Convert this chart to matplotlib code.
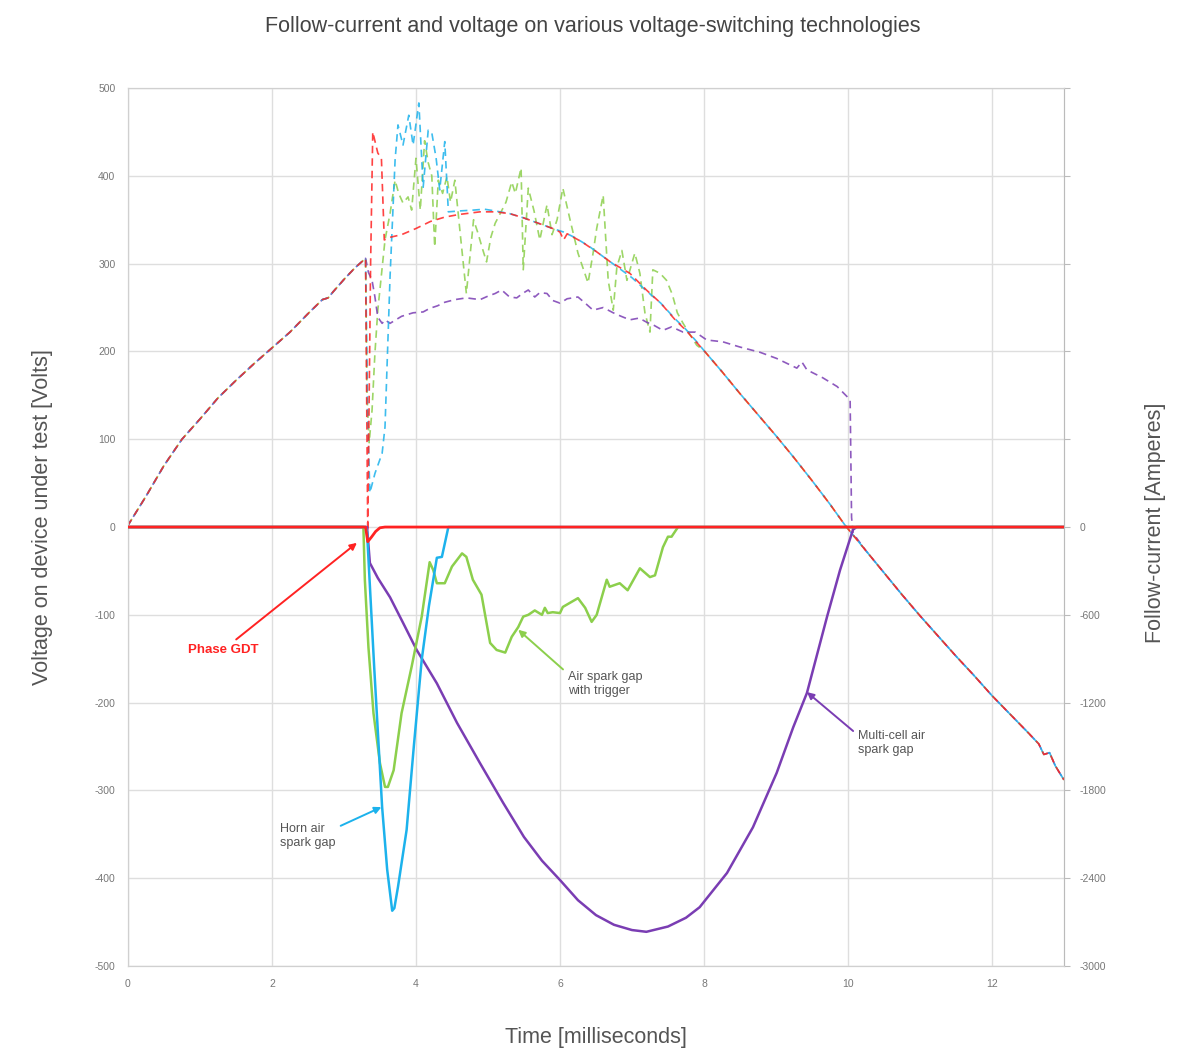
import matplotlib

matplotlib.use("Agg")
import matplotlib.pyplot as plt

plt.rcParams["font.family"] = ["Liberation Sans", "DejaVu Sans"]
plt.rcParams["axes.unicode_minus"] = False

# colours of the four technologies
C_RED = "#ff2222"
C_BLUE = "#1cb2ec"
C_GREEN = "#8ccf4c"
C_PURPLE = "#7a3db3"

# ---- voltage [V], shared sine rise before the arc and fall after it
t_rise = [0, 0.25, 0.5, 0.75, 1.0, 1.25, 1.5, 1.75, 2.0, 2.25, 2.5, 2.7, 2.78, 2.85, 3.0, 3.15, 3.3]
v_rise = [2, 35, 70, 100, 123, 147, 167, 186, 204, 222, 243, 259, 261, 268, 282, 295, 306]

t_fall = [8.0, 8.25, 8.5, 8.75, 9.0, 9.25, 9.5, 9.75, 9.96, 10.25, 10.5, 10.75, 11.0,
          11.25, 11.5, 11.75, 12.0, 12.25, 12.5, 12.65, 12.72, 12.8, 12.88, 13.0]
v_fall = [201, 177, 152, 128, 104, 79, 53, 26, 2, -27, -52, -77, -101,
          -124, -147, -169, -192, -213, -234, -247, -259, -257, -272, -288]

# phase GDT voltage during arc
t_gdt = [3.33, 3.37, 3.4, 3.47, 3.52, 3.56, 3.64, 3.8, 4.0, 4.2, 4.4, 4.6, 4.89, 5.1, 5.3,
         5.5, 5.7, 5.9, 6.0, 6.05, 6.1, 6.3, 6.5, 6.7, 6.97, 7.2, 7.4, 7.6, 7.75, 7.9]
v_gdt = [-5, 300, 450, 426, 420, 327, 330, 333, 340, 348, 353, 356, 359, 359, 357,
         352, 346, 340, 336, 327, 334, 325, 314, 302, 289, 270, 255, 236, 224, 210]

# horn air spark gap voltage during arc
t_horn = [3.33, 3.36, 3.43, 3.53, 3.57, 3.64, 3.71, 3.75, 3.82, 3.9, 3.96, 4.04, 4.1, 4.17,
          4.22, 4.28, 4.33, 4.4, 4.45, 4.6, 4.8, 4.95, 5.1, 5.3, 5.5, 5.7, 5.9, 6.05, 6.2,
          6.4, 6.6, 6.8, 7.0, 7.2, 7.4, 7.6, 7.75, 7.9]
v_horn = [120, 39, 61, 84, 114, 285, 418, 458, 435, 469, 435, 483, 387, 452,
          449, 420, 384, 439, 359, 360, 361, 362, 360, 357, 352, 346, 340, 336, 330,
          320, 308, 296, 284, 269, 255, 237, 225, 211]

# air spark gap with trigger voltage during arc
t_trig = [3.32, 3.35, 3.39, 3.43, 3.47, 3.57, 3.64, 3.71, 3.76, 3.82, 3.89, 3.94, 4.0, 4.06,
          4.12, 4.17, 4.22, 4.26, 4.31, 4.37, 4.43, 4.48, 4.54, 4.62, 4.7, 4.8, 4.86, 4.92,
          4.98, 5.04, 5.1, 5.17, 5.25, 5.33, 5.38, 5.46, 5.49, 5.56, 5.64, 5.72, 5.82, 5.89,
          5.96, 6.04, 6.14, 6.25, 6.39, 6.46, 6.51, 6.6, 6.67, 6.74, 6.79, 6.86, 6.93, 7.04,
          7.11, 7.18, 7.25, 7.29, 7.39, 7.48, 7.56, 7.63, 7.71, 7.8, 7.9]
v_trig = [150, 96, 133, 198, 247, 327, 357, 395, 380, 369, 376, 361, 420, 361,
          440, 415, 400, 319, 395, 380, 399, 370, 395, 330, 266, 350, 335, 318,
          302, 330, 346, 357, 370, 393, 380, 409, 293, 386, 360, 327, 367, 333,
          350, 386, 350, 312, 278, 312, 340, 378, 281, 247, 296, 315, 281, 312,
          289, 244, 222, 293, 289, 281, 265, 244, 232, 220, 207]

# multi-cell air spark gap voltage during arc
t_multi = [3.34, 3.39, 3.43, 3.47, 3.53, 3.57, 3.64, 3.8, 3.96, 4.1, 4.19, 4.3, 4.4, 4.54,
           4.7, 4.89, 5.0, 5.1, 5.19, 5.3, 5.4, 5.48, 5.56, 5.65, 5.72, 5.82, 5.9, 6.0, 6.1,
           6.25, 6.35, 6.46, 6.6, 6.74, 6.85, 6.97, 7.1, 7.21, 7.3, 7.43, 7.55, 7.71, 7.88,
           8.04, 8.26, 8.5, 8.78, 9.01, 9.29, 9.36, 9.43, 9.65, 9.85, 10.03, 10.05, 10.07]
v_multi = [290, 281, 262, 239, 232, 236, 232, 240, 244, 245, 249, 252, 256, 259,
           261, 259, 263, 266, 270, 262, 261, 266, 270, 262, 267, 266, 258, 255, 260,
           262, 255, 247, 250, 244, 240, 236, 238, 233, 230, 224, 228, 222, 222,
           213, 211, 205, 199, 192, 181, 188, 179, 170, 160, 145, 11, -7]

# ---- follow-current [A]
t_i_gdt = [0, 3.3, 3.33, 3.38, 3.44, 3.5, 3.57, 13]
i_gdt = [0, 0, -100, -70, -30, -5, 0, 0]

t_i_horn = [0, 3.3, 3.32, 3.42, 3.53, 3.6, 3.67, 3.7, 3.75, 3.87, 3.97, 4.08, 4.18, 4.29,
            4.36, 4.45, 13]
i_horn = [0, 0, -30, -960, -1914, -2340, -2622, -2604, -2460, -2070, -1500, -906, -540, -210,
          -204, 0, 0]

t_i_trig = [0, 3.27, 3.29, 3.34, 3.41, 3.5, 3.57, 3.61, 3.69, 3.8, 3.94, 4.08, 4.19, 4.24,
            4.29, 4.4, 4.5, 4.64, 4.7, 4.79, 4.91, 5.03, 5.12, 5.24, 5.33, 5.42, 5.49, 5.56,
            5.65, 5.75, 5.79, 5.83, 5.9, 6.0, 6.04, 6.25, 6.35, 6.44, 6.51, 6.65, 6.69, 6.76,
            6.83, 6.94, 7.11, 7.25, 7.32, 7.43, 7.5, 7.55, 7.64, 13]
i_trig = [0, 0, -360, -822, -1272, -1614, -1776, -1776, -1662, -1272, -954, -612, -240, -294,
          -384, -384, -270, -180, -204, -360, -462, -792, -840, -858, -750, -684, -612, -600,
          -570, -600, -552, -588, -582, -588, -546, -486, -552, -648, -600, -360, -408, -396,
          -384, -432, -282, -342, -330, -138, -66, -66, 0, 0]

t_i_multi = [0, 3.32, 3.36, 3.47, 3.64, 3.82, 4.01, 4.29, 4.57, 4.89, 5.21, 5.5, 5.75, 6.0,
             6.25, 6.5, 6.75, 7.0, 7.2, 7.5, 7.75, 7.94, 8.32, 8.68, 9.01, 9.24, 9.43, 9.71,
             9.89, 10.07, 10.12, 13]
i_multi = [0, 0, -246, -348, -480, -654, -840, -1068, -1338, -1614, -1884, -2118, -2280, -2412,
           -2550, -2652, -2718, -2754, -2766, -2730, -2670, -2598, -2364, -2052, -1680, -1368,
           -1134, -612, -294, -18, 0, 0]

v_ticks = list(range(-500, 501, 100))
i_ticks = list(range(-3000, 3001, 600))

fig = plt.figure(figsize=(11.86, 10.48), dpi=100)
ax = fig.add_axes([0.1079, 0.0782, 0.7892, 0.8378])
ax2 = ax.twinx()

fall_multi = [(t, v) for t, v in zip(t_fall, v_fall) if t > 10.1]
series_v = [
    (t_rise + t_trig + t_fall, v_rise + v_trig + v_fall, C_GREEN, 0.0),
    (t_rise + t_multi + [p[0] for p in fall_multi], v_rise + v_multi + [p[1] for p in fall_multi], C_PURPLE, 1.5),
    (t_rise + t_horn + t_fall, v_rise + v_horn + v_fall, C_BLUE, 1.0),
    (t_rise + t_gdt + t_fall, v_rise + v_gdt + v_fall, C_RED, 0.5),
]
for tt, vv, col, off in series_v:
    ax.plot(tt, vv, color=col, lw=1.2, ls=(off, (4.5, 3)), alpha=0.85, zorder=3)

ax2.plot(t_i_multi, i_multi, color=C_PURPLE, lw=1.8, zorder=4)
ax2.plot(t_i_trig, i_trig, color=C_GREEN, lw=1.8, zorder=4)
ax2.plot(t_i_horn, i_horn, color=C_BLUE, lw=1.8, zorder=4)
ax2.plot(t_i_gdt, i_gdt, color=C_RED, lw=2.0, zorder=5)

ax.set_xlim(0, 13)
ax.set_ylim(-500, 500)
ax2.set_ylim(-3000, 3000)
ax.set_xticks(range(0, 13, 2))
ax.set_yticks(v_ticks)
ax2.set_yticks(i_ticks)
ax2.set_yticklabels([str(v) if v <= 0 else "" for v in i_ticks])

ax.grid(True, color="#dedede", lw=1)
ax.set_axisbelow(True)
for a in (ax, ax2):
    for s in a.spines.values():
        s.set_color("#d0d0d0")
ax2.spines["right"].set_color("#bbbbbb")
ax.tick_params(axis="both", length=0, labelsize=7.5, labelcolor="#777777", pad=9)
ax2.tick_params(axis="y", length=4, color="#bbbbbb", labelsize=7.5, labelcolor="#777777", pad=7)

lab = dict(fontsize=15.5, color="#555555")
ax.set_xlabel("Time [milliseconds]", **lab)
ax.xaxis.set_label_coords(0.5, -0.069)
ax.set_ylabel("Voltage on device under test [Volts]", **lab)
ax.yaxis.set_label_coords(-0.080, 0.511)
ax2.set_ylabel("Follow-current [Amperes]", **lab)
ax2.yaxis.set_label_coords(1.087, 0.505)
fig.suptitle("Follow-current and voltage on various voltage-switching technologies",
             x=0.5, y=0.985, fontsize=15.5, color="#444444")

# annotations in voltage coordinates
arrow = dict(arrowstyle="-|>", lw=1.4, mutation_scale=10, shrinkA=2, shrinkB=0)
note = dict(fontsize=9, color="#555555", linespacing=1.25, ha="left", va="center", zorder=6)
ax.annotate("Phase GDT", xy=(3.18, -18), xytext=(1.81, -140), ha="right", va="center",
            fontsize=9.5, fontweight="bold", color=C_RED,
            arrowprops=dict(arrow, color=C_RED), zorder=6)
ax.annotate("Horn air\nspark gap", xy=(3.52, -319), xytext=(2.11, -352),
            arrowprops=dict(arrow, color=C_BLUE, relpos=(1, 0.8)), **note)
ax.annotate("Air spark gap\nwith trigger", xy=(5.42, -117), xytext=(6.11, -179),
            arrowprops=dict(arrow, color=C_GREEN, relpos=(0, 0.9)), **note)
ax.annotate("Multi-cell air\nspark gap", xy=(9.43, -188), xytext=(10.14, -246),
            arrowprops=dict(arrow, color=C_PURPLE, relpos=(0, 0.8)), **note)

fig.savefig("out.png", dpi=100, facecolor="white")
